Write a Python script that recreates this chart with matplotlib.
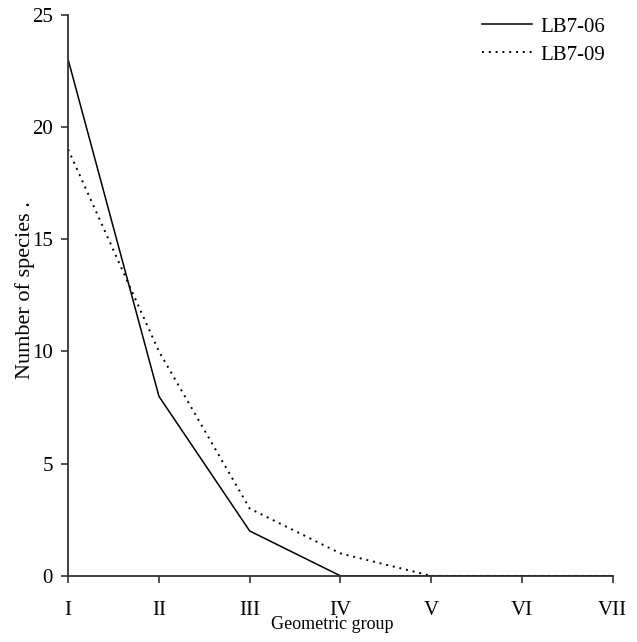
import matplotlib.pyplot as plt

plt.rcParams['font.family'] = ['Liberation Serif', 'DejaVu Serif']

groups = ['I', 'II', 'III', 'IV', 'V', 'VI', 'VII']
lb7_06 = [23, 8, 2, 0, 0, 0, 0]
lb7_09 = [19, 10, 3, 1, 0, 0, 0]

fig = plt.figure(figsize=(6.37, 6.42), dpi=100)
ax = fig.add_axes([0.107, 0.103, 0.855, 0.874])

x = list(range(len(groups)))
ax.plot(x, lb7_06, color='black', linewidth=1.1, label='LB7-06')
ax.plot(x, lb7_09, color='black', linewidth=1.4, linestyle=(0, (1, 2.5)), label='LB7-09')

ax.set_xlim(0, len(groups) - 1)
ax.set_ylim(0, 25)
ax.set_yticks([0, 5, 10, 15, 20, 25])
ax.set_xticks(x)
ax.set_xticklabels(groups)

for side in ['top', 'right']:
    ax.spines[side].set_visible(False)
for side in ['left', 'bottom']:
    ax.spines[side].set_linewidth(1.3)
    ax.spines[side].set_color('#333333')

ax.tick_params(axis='both', direction='out', length=5, width=1.2, color='#333333', labelsize=15)
ax.tick_params(axis='x', pad=13)
ax.tick_params(axis='y', pad=6)

ax.set_ylabel('Number of species .', fontsize=16)
ax.yaxis.set_label_coords(-0.06, 0.51)
ax.set_xlabel('Geometric group', fontsize=13)
ax.xaxis.set_label_coords(0.485, -0.071)

ax.legend(loc='upper right', frameon=False, fontsize=15, handlelength=2.4,
          handletextpad=0.4, labelspacing=0.4, borderpad=0, borderaxespad=0,
          bbox_to_anchor=(605 / 637, 1 - 17 / 642), bbox_transform=fig.transFigure)

fig.savefig('out.png', dpi=100)
